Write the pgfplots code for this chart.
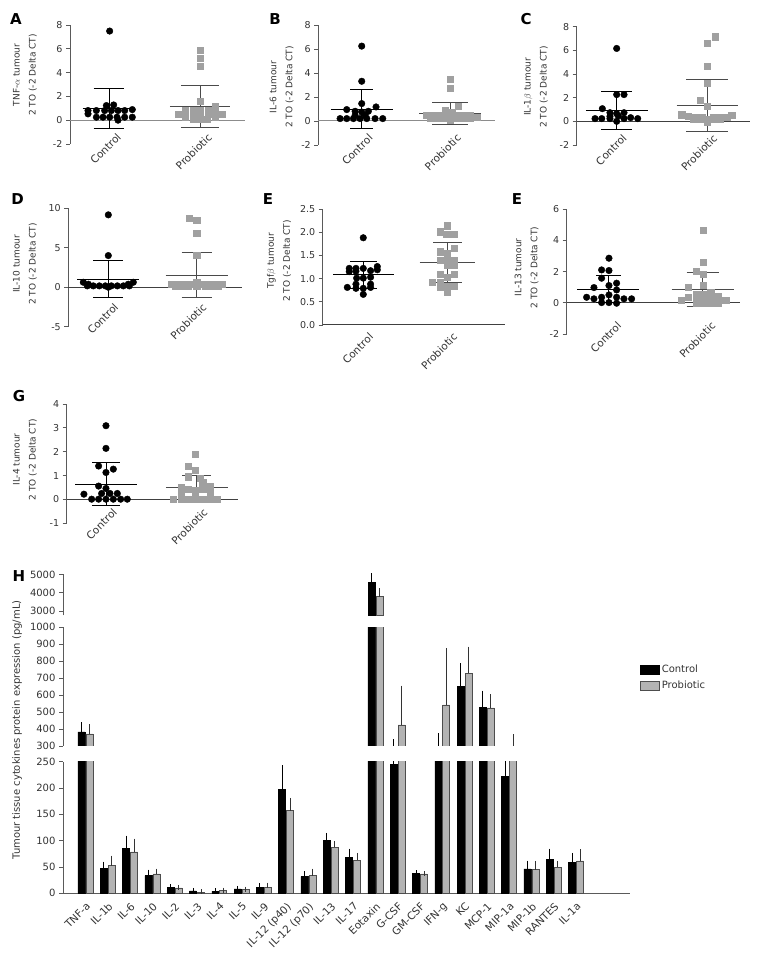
\documentclass[border=0pt]{standalone}
\usepackage{pgfplots}
\usepackage{pgfplotstable}
\pgfplotsset{compat=1.18}
\usepackage{fontspec}
\setmainfont{DejaVu Sans}
\definecolor{axgray}{HTML}{5A5A5A}
\definecolor{tkgray}{HTML}{333333}
\definecolor{sqgray}{HTML}{A0A0A0}
\definecolor{zgray}{HTML}{8C8C8C}
\definecolor{zdark}{HTML}{404040}
\definecolor{pgray}{HTML}{4A4A4A}
\definecolor{barg}{HTML}{B3B3B3}
\definecolor{bard}{HTML}{4D4D4D}

\newcommand\msd[6]{%
  \pgfmathsetmacro\mxa{#1-#4}\pgfmathsetmacro\mxb{#1+#4}%
  \pgfmathsetmacro\cxa{#1-#5}\pgfmathsetmacro\cxb{#1+#5}%
  \pgfmathsetmacro\ya{#2-#3}\pgfmathsetmacro\yb{#2+#3}%
  \edef\msdrun{%
    \noexpand\addplot[#6, line width=0.9pt, forget plot] coordinates {(\mxa,#2) (\mxb,#2)};%
    \noexpand\addplot[#6, line width=0.9pt, forget plot] coordinates {(#1,\ya) (#1,\yb)};%
    \noexpand\addplot[#6, line width=0.9pt, forget plot] coordinates {(\cxa,\ya) (\cxb,\ya)};%
    \noexpand\addplot[#6, line width=0.9pt, forget plot] coordinates {(\cxa,\yb) (\cxb,\yb)};%
  }\msdrun}

\tikzset{xl/.style={rotate=45, anchor=north east, font=\fontsize{10.5}{12}\selectfont, text=tkgray, inner sep=0pt}}
\pgfplotsset{
  sc/.style={scale only axis, anchor=south west, axis x line=none, axis y line*=left,
    y axis line style={-, draw=axgray, line width=0.8pt},
    ytick style={draw=axgray, line width=0.8pt}, tick align=outside, major tick length=4pt,
    yticklabel style={font=\fontsize{9.5}{11}\selectfont, text=tkgray},
    /pgf/number format/assume math mode=true,
    clip=false, enlargelimits=false},
  ctrl/.style={only marks, mark=*, mark size=3.3pt, mark options={fill=black, draw=black}, forget plot},
  prob/.style={only marks, mark=square*, mark size=3.1pt, mark options={fill=sqgray, draw=sqgray}, forget plot},
  hb/.style={scale only axis, anchor=south west, width=567pt, xmin=-1.009, xmax=24.42,
    enlargelimits=false, ybar, bar width=7pt, axis y line*=left,
    y axis line style={-, draw=axgray, line width=0.8pt},
    ytick style={draw=axgray, line width=0.8pt}, tick align=outside, major tick length=4pt,
    yticklabel style={font=\fontsize{10}{12}\selectfont, text=tkgray},
    /pgf/number format/assume math mode=true, /pgf/number format/1000 sep={}},
  cbar/.style={fill=black, draw=black, line width=0.5pt, bar shift=-4pt,
    error bars/y dir=plus, error bars/y explicit,
    error bars/error bar style={draw=black, line width=0.8pt},
    error bars/error mark options={draw=black, line width=0.8pt, mark size=2.6pt}},
  pbar/.style={fill=barg, draw=bard, line width=0.6pt, bar shift=4pt,
    error bars/y dir=plus, error bars/y explicit,
    error bars/error bar style={draw=tkgray, line width=0.8pt},
    error bars/error mark options={draw=tkgray, line width=0.8pt, mark size=2.6pt}},
  cerr/.style={cbar, fill=none, draw=none, forget plot},
  perr/.style={pbar, fill=none, draw=none, forget plot},
}

% x: category index, c/ce: Control mean/error, p/pe: Probiotic mean/error
\pgfplotstableread{
x c ce p pe
0 384 40 371 43
1 47.6 7.4 52.7 14
2 85.7 19.1 78.7 20.3
3 33.7 6.3 36.8 5.1
4 10.8 1.0 10.2 1.0
5 4.4 0.8 2.0 0.5
6 3.8 0.8 5.0 1.0
7 8.3 0.8 7.0 0.8
8 11.4 2.6 10.8 4.4
9 198 40.6 156.8 19.7
10 31.7 5.1 33.7 8.2
11 101 8.8 87.6 7.0
12 68 12 62.9 8.8
13 4600 400 3780 315
14 245.6 80 424 216
15 38.1 0.5 36.8 0.5
16 275 84 542 318
17 650 122 729 141
18 528 83 525 66
19 221.5 26.5 270 85
20 46.3 10.7 45 11.5
21 64 16 49.5 7
22 59 12.7 61.6 17.1
}\Hdata

\begin{document}
\begin{tikzpicture}
\path[use as bounding box] (0pt,0pt) rectangle (762pt,957pt);

% ---------- A ----------
\begin{axis}[sc, at={(70pt,813pt)}, width=175pt, height=119pt,
  xmin=0.571, xmax=2.495, ymin=-2, ymax=8, ytick={-2,0,2,4,6,8}]
\addplot[zgray, line width=1pt, forget plot] coordinates {(0.571,0) (2.495,0)};
\addplot[ctrl] coordinates {(1.007,7.49) (0.971,1.23) (1.051,1.28) (0.769,0.81) (0.769,0.53) (0.861,0.81) (0.952,0.81) (1.026,0.81) (1.099,0.81) (1.172,0.81) (1.256,0.89) (0.861,0.25) (0.934,0.25) (1.007,0.25) (1.088,0.25) (1.172,0.25) (1.256,0.25) (1.099,0.0)};
\addplot[prob] coordinates {(2.0,5.9) (2.0,5.21) (2.0,4.51) (2.0,1.59) (2.165,1.17) (1.762,0.47) (1.835,0.81) (1.927,0.81) (2.0,0.81) (2.092,0.81) (2.165,0.61) (2.238,0.47) (1.835,0.25) (1.927,0.47) (2.0,0.33) (2.092,0.47) (2.165,0.25) (1.927,0.06) (2.0,0.06) (2.073,0.06)};
\msd{1}{1.0}{1.7}{0.29}{0.17}{black}
\msd{2}{1.17}{1.75}{0.33}{0.21}{pgray}
\node[xl] at ([xshift=7pt, yshift=-12pt]axis cs:1,0) {Control};
\node[xl] at ([xshift=7pt, yshift=-12pt]axis cs:2,0) {Probiotic};
\end{axis}

% ---------- B ----------
\begin{axis}[sc, at={(318.3pt,812pt)}, width=176.7pt, height=120pt,
  xmin=0.508, xmax=2.51, ymin=-2, ymax=8, ytick={-2,0,2,4,6,8}]
\addplot[zgray, line width=1pt, forget plot] coordinates {(0.508,0) (2.51,0)};
\addplot[ctrl] coordinates {(1.0,6.24) (1.0,3.31) (1.0,1.45) (0.83,0.95) (1.162,1.17) (0.925,0.81) (1.0,0.75) (1.075,0.81) (0.925,0.47) (1.038,0.47) (0.755,0.2) (0.83,0.2) (0.906,0.2) (0.981,0.2) (1.057,0.2) (1.151,0.2) (1.238,0.2)};
\addplot[prob] coordinates {(2.0,3.48) (2.0,2.76) (1.943,0.89) (2.094,1.23) (2.019,0.75) (1.736,0.47) (1.811,0.47) (1.887,0.47) (1.962,0.47) (2.075,0.47) (2.151,0.47) (2.226,0.47) (1.774,0.2) (1.849,0.2) (1.925,0.2) (2.0,0.1) (2.075,0.2) (2.151,0.2) (2.226,0.2) (2.302,0.33)};
\msd{1}{1.0}{1.62}{0.35}{0.13}{black}
\msd{2}{0.6}{0.92}{0.35}{0.2}{pgray}
\node[xl] at ([xshift=6pt, yshift=-12pt]axis cs:1,0) {Control};
\node[xl] at ([xshift=6pt, yshift=-12pt]axis cs:2,0) {Probiotic};
\end{axis}

% ---------- C ----------
\begin{axis}[sc, at={(576.7pt,812pt)}, width=173.3pt, height=118.3pt,
  xmin=0.559, xmax=2.471, ymin=-2, ymax=8, ytick={-2,0,2,4,6,8}]
\addplot[zdark, line width=1pt, forget plot] coordinates {(0.559,0) (2.471,0)};
\addplot[ctrl] coordinates {(1.0,6.16) (1.0,2.26) (1.081,2.26) (0.842,1.07) (0.926,0.73) (1.0,0.65) (1.081,0.73) (1.018,0.45) (0.761,0.23) (0.835,0.23) (0.926,0.23) (1.081,0.23) (1.154,0.31) (1.232,0.23) (1.0,0.0) (0.926,0.42)};
\addplot[prob] coordinates {(2.085,7.15) (2.0,6.58) (2.0,4.66) (2.0,3.25) (1.919,1.78) (2.0,1.27) (1.717,0.56) (2.268,0.51) (1.79,0.42) (1.864,0.37) (1.938,0.37) (2.066,0.37) (2.14,0.37) (2.213,0.37) (1.846,0.2) (1.919,0.2) (2.0,0.2) (2.066,0.2) (2.14,0.2) (2.0,-0.08)};
\msd{1}{0.93}{1.58}{0.34}{0.17}{black}
\msd{2}{1.33}{2.19}{0.34}{0.23}{pgray}
\node[xl] at ([xshift=5pt, yshift=-12pt]axis cs:1,0) {Control};
\node[xl] at ([xshift=5pt, yshift=-12pt]axis cs:2,0) {Probiotic};
\end{axis}

% ---------- D ----------
\begin{axis}[sc, at={(68.3pt,630.3pt)}, width=173.4pt, height=118.4pt,
  xmin=0.547, xmax=2.51, ymin=-5, ymax=10, ytick={-5,0,5,10}]
\addplot[zdark, line width=1pt, forget plot] coordinates {(0.547,0) (2.51,0)};
\addplot[ctrl] coordinates {(1.0,9.17) (1.0,4.01) (0.717,0.63) (1.283,0.63) (0.762,0.17) (0.83,0.17) (0.898,0.17) (0.966,0.17) (1.034,0.17) (1.102,0.17) (1.17,0.17) (1.238,0.17) (0.774,0.38) (1.226,0.38) (1.0,0.0)};
\addplot[prob] coordinates {(1.913,8.75) (2.0,8.53) (2.0,6.84) (2.0,4.1) (2.0,0.68) (1.717,0.38) (1.792,0.38) (1.868,0.38) (1.943,0.38) (2.057,0.38) (2.132,0.38) (2.208,0.38) (2.283,0.38) (1.755,0.08) (1.83,0.08) (1.906,0.08) (2.0,0.08) (2.094,0.08) (2.17,0.08) (2.245,0.08)};
\msd{1}{1.01}{2.33}{0.35}{0.17}{black}
\msd{2}{1.52}{2.87}{0.35}{0.17}{pgray}
\node[xl] at ([xshift=5pt, yshift=-15pt]axis cs:1,0) {Control};
\node[xl] at ([xshift=5pt, yshift=-15pt]axis cs:2,0) {Probiotic};
\end{axis}

% ---------- E (Tgf) ----------
\begin{axis}[sc, at={(322.7pt,632pt)}, width=182.3pt, height=116pt,
  xmin=0.517, xmax=2.687, ymin=0, ymax=2.5, ytick={0,0.5,1,1.5,2,2.5},
  yticklabel style={/pgf/number format/.cd, fixed, fixed zerofill, precision=1}]
\addplot[zdark, line width=1pt, forget plot] coordinates {(0.517,0) (2.687,0)};
\addplot[ctrl] coordinates {(1.0,1.88) (0.833,1.22) (0.913,1.22) (1.0,1.22) (1.167,1.26) (0.833,1.15) (0.913,1.16) (1.087,1.17) (1.167,1.19) (0.921,1.01) (1.0,1.01) (1.087,1.03) (0.913,0.88) (1.087,0.88) (0.81,0.81) (0.913,0.79) (1.0,0.79) (1.087,0.81) (1.0,0.66)};
\addplot[prob] coordinates {(2.0,2.14) (1.913,2.01) (1.992,1.95) (2.079,1.95) (1.913,1.58) (2.0,1.54) (2.079,1.65) (1.913,1.40) (2.0,1.39) (2.079,1.39) (2.0,1.29) (2.079,1.29) (1.913,1.09) (2.079,1.09) (1.825,0.92) (1.913,0.92) (2.0,1.03) (2.0,0.84) (2.079,0.84) (1.913,0.81) (2.0,0.70)};
\msd{1}{1.08}{0.29}{0.36}{0.16}{black}
\msd{2}{1.34}{0.43}{0.33}{0.17}{pgray}
\node[xl] at ([xshift=5pt, yshift=-7pt]axis cs:1,0) {Control};
\node[xl] at ([xshift=5pt, yshift=-7pt]axis cs:2,0) {Probiotic};
\end{axis}

% ---------- E (IL-13) ----------
\begin{axis}[sc, at={(566.7pt,623pt)}, width=173.3pt, height=125pt,
  xmin=0.559, xmax=2.396, ymin=-2, ymax=6, ytick={-2,0,2,4,6}]
\addplot[zdark, line width=1pt, forget plot] coordinates {(0.559,0) (2.396,0)};
\addplot[ctrl] coordinates {(1.007,2.85) (0.929,2.1) (1.007,2.06) (0.929,1.57) (1.007,1.1) (1.088,1.25) (0.848,0.97) (1.088,0.82) (0.77,0.35) (0.848,0.25) (0.929,0.35) (1.007,0.5) (1.088,0.35) (1.166,0.25) (1.247,0.25) (0.929,0.01) (1.007,0.01) (1.088,-0.03)};
\addplot[prob] coordinates {(2.007,4.62) (2.007,2.57) (1.929,2.04) (2.007,1.82) (2.007,1.1) (1.848,0.97) (2.085,0.67) (1.929,0.57) (2.007,0.57) (1.77,0.14) (1.848,0.35) (1.929,0.25) (2.007,0.39) (2.085,0.25) (2.166,0.39) (2.244,0.14) (1.929,-0.03) (2.007,-0.03) (2.085,-0.03) (2.166,-0.03)};
\msd{1}{0.88}{0.86}{0.33}{0.13}{black}
\msd{2}{0.86}{1.1}{0.33}{0.17}{pgray}
\node[xl] at ([xshift=8pt, yshift=-18pt]axis cs:1,0) {Control};
\node[xl] at ([xshift=8pt, yshift=-18pt]axis cs:2,0) {Probiotic};
\end{axis}

% ---------- G ----------
\begin{axis}[sc, at={(66.7pt,433.7pt)}, width=171.6pt, height=119.3pt,
  xmin=0.567, xmax=2.459, ymin=-1, ymax=4, ytick={-1,0,1,2,3,4}]
\addplot[zdark, line width=1pt, forget plot] coordinates {(0.567,0) (2.459,0)};
\addplot[ctrl] coordinates {(1.0,3.09) (1.0,2.14) (0.919,1.40) (1.081,1.27) (1.0,1.13) (0.919,0.56) (1.0,0.46) (0.757,0.22) (0.952,0.25) (1.044,0.25) (1.125,0.25) (0.842,0.01) (0.919,0.01) (1.0,0.01) (1.081,0.01) (1.162,0.01) (1.235,0.01)};
\addplot[prob] coordinates {(1.982,1.9) (1.908,1.4) (1.982,1.23) (1.908,0.95) (2.037,0.88) (2.066,0.7) (1.827,0.5) (2.147,0.53) (1.908,0.43) (1.982,0.39) (2.066,0.43) (1.982,0.21) (1.827,0.21) (2.147,0.21) (1.743,0.0) (1.827,0.0) (1.908,0.0) (1.982,0.0) (2.066,0.0) (2.147,0.0) (2.221,0.0)};
\msd{1}{0.64}{0.91}{0.34}{0.15}{black}
\msd{2}{0.5}{0.5}{0.34}{0.16}{pgray}
\node[xl] at ([xshift=6pt, yshift=-8pt]axis cs:1,0) {Control};
\node[xl] at ([xshift=6pt, yshift=-8pt]axis cs:2,0) {Probiotic};
\end{axis}

% ---------- H bottom (0-250) ----------
\begin{axis}[hb, at={(63pt,63.7pt)}, height=131.6pt, ymin=0, ymax=250,
  ytick={0,50,100,150,200,250},
  axis x line*=bottom, x axis line style={-, draw=axgray, line width=0.8pt},
  xtick={0,...,22}, xtick style={draw=none},
  xticklabels={TNF-a,IL-1b,IL-6,IL-10,IL-2,IL-3,IL-4,IL-5,IL-9,IL-12 (p40),IL-12 (p70),IL-13,IL-17,Eotaxin,G-CSF,GM-CSF,IFN-g,KC,MCP-1,MIP-1a,MIP-1b,RANTES,IL-1a},
  xticklabel style={rotate=45, anchor=north east, font=\fontsize{10.5}{12}\selectfont, text=tkgray, inner sep=1pt, xshift=-2pt, yshift=-2pt}]
\addplot[cbar] table[x=x, y=c, y error=ce] {\Hdata};
\addplot[pbar] table[x=x, y=p, y error=pe] {\Hdata};
\end{axis}

% ---------- H middle (300-1000) ----------
\begin{axis}[hb, at={(63pt,211pt)}, height=118.7pt, ymin=300, ymax=1000,
  ytick={300,400,...,1000}, axis x line=none,
  legend style={at={(1.0176,0.70)}, anchor=north west, draw=none, fill=none,
    font=\fontsize{10}{12}\selectfont, text=tkgray, row sep=3pt, inner sep=0pt},
  legend cell align=left,
  legend image code/.code={\draw[#1] (0pt,-4.5pt) rectangle (19pt,4.5pt);}]
\addplot[cbar] coordinates {(0,384) +- (0,40) (13,4600) +- (0,400) (17,650) +- (0,122) (18,528) +- (0,83)};
\addplot[pbar] coordinates {(0,371) +- (0,43) (13,3780) +- (0,315) (14,424) +- (0,216) (16,542) +- (0,318) (17,729) +- (0,141) (18,525) +- (0,66)};
\addplot[cerr] coordinates {(14,245.6) +- (0,80) (16,275) +- (0,84)};
\addplot[perr] coordinates {(19,270) +- (0,85)};
\legend{Control,Probiotic}
\end{axis}

% ---------- H top (2750-5050) ----------
\begin{axis}[hb, at={(63pt,341.5pt)}, height=41.8pt, ymin=2750, ymax=5050,
  ytick={3000,4000,5000}, axis x line=none]
\addplot[cbar] coordinates {(13,4600) +- (0,400)};
\addplot[pbar] coordinates {(13,3780) +- (0,315)};
\end{axis}

% ---------- letters and y labels ----------
\begin{scope}[every node/.style={font=\fontsize{15}{16}\selectfont\bfseries}]
\node at (16pt,938pt) {A};
\node at (275pt,938pt) {B};
\node at (526pt,938pt) {C};
\node at (17.5pt,758pt) {D};
\node at (268pt,758pt) {E};
\node at (517pt,758pt) {E};
\node at (19pt,561pt) {G};
\node at (19pt,381pt) {H};
\end{scope}
\begin{scope}[every node/.style={rotate=90, align=center, font=\fontsize{9}{16}\selectfont, text=tkgray}]
\node at (25pt,882pt) {TNF-$\alpha$ tumour\\2 TO (-2 Delta CT)};
\node at (281.5pt,870pt) {IL-6 tumour\\2 TO (-2 Delta CT)};
\node at (536pt,870pt) {IL-1$\beta$ tumour\\2 TO (-2 Delta CT)};
\node at (25pt,693pt) {IL-10 tumour\\2 TO (-2 Delta CT)};
\node at (279pt,696pt) {Tgf$\beta$ tumour\\2 TO (-2 Delta CT)};
\node at (526.5pt,689.5pt) {IL-13 tumour\\2 TO (-2 Delta CT)};
\node at (25pt,497.5pt) {IL-4 tumour\\2 TO (-2 Delta CT)};
\end{scope}
\node[rotate=90, font=\fontsize{10}{12}\selectfont, text=tkgray] at (17pt,227pt) {Tumour tissue cytokines protein expression (pg/mL)};
\end{tikzpicture}
\end{document}
